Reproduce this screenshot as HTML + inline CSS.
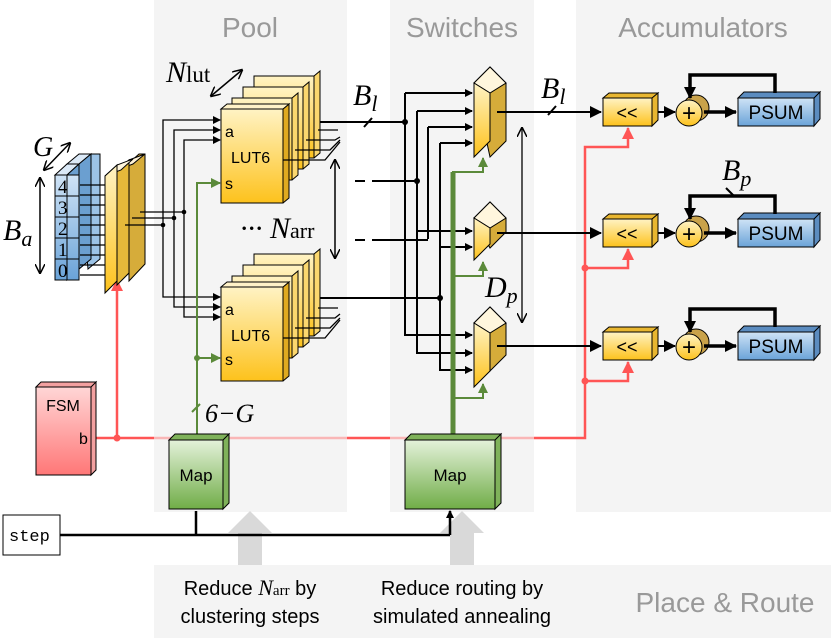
<!DOCTYPE html>
<html><head><meta charset="utf-8"><style>
body{margin:0;background:#fff;width:831px;height:638px;overflow:hidden}
svg text{font-family:"Liberation Sans",sans-serif}
svg text.m,svg tspan.m{font-family:"Liberation Serif",serif;font-style:italic}
svg text.mono{font-family:"Liberation Mono",monospace}
</style></head><body>
<svg width="831" height="638" viewBox="0 0 831 638" xmlns="http://www.w3.org/2000/svg">
<defs>
<linearGradient id="y" x1="0" y1="0" x2="0" y2="1"><stop offset="0" stop-color="#fff3c4"/><stop offset="1" stop-color="#fdc21c"/></linearGradient>
<linearGradient id="b" x1="0" y1="0" x2="0" y2="1"><stop offset="0" stop-color="#cfe3f6"/><stop offset="1" stop-color="#6aa3d8"/></linearGradient>
<linearGradient id="g" x1="0" y1="0" x2="0" y2="1"><stop offset="0" stop-color="#e4f2da"/><stop offset="1" stop-color="#70ad47"/></linearGradient>
<linearGradient id="r" x1="0" y1="0" x2="0" y2="1"><stop offset="0" stop-color="#ffd6d6"/><stop offset="1" stop-color="#f77"/></linearGradient>
<marker id="a" markerWidth="8" markerHeight="8" refX="7" refY="4" orient="auto" markerUnits="userSpaceOnUse"><path d="M0,0L8,4L0,8z" fill="#000"/></marker>
<marker id="ag" markerWidth="10" markerHeight="10" refX="9" refY="5" orient="auto" markerUnits="userSpaceOnUse"><path d="M0,0L10,5L0,10z" fill="#5b8a3a"/></marker>
<marker id="ar" markerWidth="12" markerHeight="12" refX="11" refY="6" orient="auto" markerUnits="userSpaceOnUse"><path d="M0,0L12,6L0,12z" fill="#f55"/></marker>
<marker id="ab" markerWidth="12" markerHeight="12" refX="11" refY="6" orient="auto" markerUnits="userSpaceOnUse"><path d="M0,0L12,6L0,12z" fill="#000"/></marker>
<marker id="d2" markerWidth="10" markerHeight="10" refX="9" refY="5" orient="auto-start-reverse" markerUnits="userSpaceOnUse"><path d="M0,0L10,5L0,10" fill="none" stroke="#000" stroke-width="1.5"/></marker>
</defs>
<rect x="154" y="0" width="193" height="512" fill="#f4f4f4"/>
<rect x="390" y="0" width="144" height="512" fill="#f4f4f4"/>
<rect x="576" y="0" width="255" height="512" fill="#f4f4f4"/>
<rect x="154" y="565" width="677" height="73" fill="#f4f4f4"/>
<text x="250" y="37" font-size="28" fill="#999" text-anchor="middle">Pool</text>
<text x="462" y="37" font-size="28" fill="#999" text-anchor="middle">Switches</text>
<text x="703" y="37" font-size="28" fill="#999" text-anchor="middle">Accumulators</text>
<text x="725" y="612" font-size="28" fill="#999" text-anchor="middle">Place &amp; Route</text>
<path d="M238,565V533H228L250,511L272,533H262V565z" fill="#d9d9d9"/>
<path d="M450,565V533H440L462,511L484,533H474V565z" fill="#d9d9d9"/>
<text x="250" y="595" font-size="20" text-anchor="middle">Reduce <tspan class="m" font-size="22">N</tspan><tspan font-family="Liberation Serif" font-size="15">arr</tspan> by</text>
<text x="250" y="623" font-size="20" text-anchor="middle">clustering steps</text>
<text x="462" y="595" font-size="20" text-anchor="middle">Reduce routing by</text>
<text x="462" y="623" font-size="20" text-anchor="middle">simulated annealing</text>

<g stroke="#f55" stroke-width="2.5" fill="none">
<path d="M96,438H154M347,438H390M534,438H585V147H628V128" marker-end="url(#ar)"/>
<path d="M117,438V280" marker-end="url(#ar)"/>
<path d="M585,268H628V249" marker-end="url(#ar)"/>
<path d="M585,381H628V362" marker-end="url(#ar)"/>
</g>
<path d="M154,438H347M390,438H534" stroke="#f9b6b6" stroke-width="2.5"/>
<circle cx="117" cy="438" r="3.5" fill="#f55"/><circle cx="585" cy="268" r="3.5" fill="#f55"/><circle cx="585" cy="381" r="3.5" fill="#f55"/>

<g stroke="#000" stroke-width="1">
<path d="M79,164l12,-10h9v105l-12,10z" fill="#9cc3e6"/>
<path d="M67,164l12,-10h12l-12,10z" fill="#dbe9f7"/>
<path d="M55,175l12,-11h12l-12,11z" fill="#dbe9f7"/>
<path d="M79,164l12,-10v105l-12,10z" fill="#6b9fd0"/>
<path d="M67,175l12,-11v105l-12,11z" fill="#6b9fd0"/>
<rect x="55" y="175" width="24" height="105" fill="url(#b)"/>
<path d="M55,196h24M55,217h24M55,238h24M55,259h24M67,175v105"/>
</g>
<g font-size="19" fill="#000"><text class="m" style="font-style:normal" x="58" y="193">4</text><text class="m" style="font-style:normal" x="58" y="214">3</text><text class="m" style="font-style:normal" x="58" y="235">2</text><text class="m" style="font-style:normal" x="58" y="256">1</text><text class="m" style="font-style:normal" x="58" y="277">0</text></g>
<g stroke="#000" stroke-width="1.3"><path d="M80,185h28M80,195h28M80,205h28M80,215h28M80,225h28M80,235h28M80,245h28M80,255h28M80,265h28M80,275h28"/></g>
<g stroke="#000" stroke-width="1">
<path d="M129,163l10,-9h6v110l-16,17z" fill="#d6ac3a"/>
<path d="M117,170l12,-10l16,-6l-12,10z" fill="#fff3d6"/>
<path d="M117,170l12,-10v113l-12,12z" fill="#e6b93a"/>
<path d="M105,176l12,-11l16,-6l-12,11z" fill="#fff6dd"/>
<path d="M105,176l12,-11v116l-12,12z" fill="url(#y)"/>
</g>
<g stroke="#000" stroke-width="1.3" fill="none">
<path d="M140,212H184V140H220" marker-end="url(#a)"/><path d="M132,218H174V130H220" marker-end="url(#a)"/><path d="M125,225H163V120H220" marker-end="url(#a)"/>
<path d="M184,212V317H220" marker-end="url(#a)"/><path d="M174,218V307H220" marker-end="url(#a)"/><path d="M163,225V297H220" marker-end="url(#a)"/>
</g>
<circle cx="184" cy="212" r="2.3"/><circle cx="174" cy="218" r="2.3"/><circle cx="163" cy="225" r="2.3"/>
<g stroke="#5b8a3a" stroke-width="2" fill="none">
<path d="M197,436V183H220" marker-end="url(#ag)"/><path d="M197,358H220" marker-end="url(#ag)"/>
<path d="M192,412l8,-8" stroke-width="2"/>
</g>
<circle cx="197" cy="358" r="3" fill="#5b8a3a"/>
<text class="m" x="205" y="422" font-size="26">6−G</text>
<g stroke="#000" stroke-width="1">
<g id="L">
<path d="M254,76h60l6,-5v82l-6,5h-60z" fill="#fbd76e"/><rect x="254" y="76" width="60" height="82" fill="url(#y)"/>
<path d="M243,87h60l6,-5v82l-6,5h-60z" fill="#fbd76e"/><rect x="243" y="87" width="60" height="82" fill="url(#y)"/>
<path d="M232,98h60l6,-5v82l-6,5h-60z" fill="#fbd76e"/><rect x="232" y="98" width="60" height="82" fill="url(#y)"/>
<path d="M221,109h62l6,-5v94l-6,5h-62z" fill="#e0aa20"/><path d="M221,109l6,-5h62l-6,5z" fill="#fff2c8"/><rect x="221" y="109" width="62" height="94" fill="url(#y)"/>
</g>
<use href="#L" y="178"/>
</g>
<g font-size="16"><text x="225" y="137">a</text><text x="231" y="163">LUT6</text><text x="225" y="189">s</text>
<text x="225" y="315">a</text><text x="231" y="341">LUT6</text><text x="225" y="365">s</text></g>
<g stroke="#000" stroke-width="1.3" fill="none">
<path d="M283,160H325L340,142M295,150H330L340,140M306,140H335L340,137M318,130H338M283,338H325L340,320M295,328H330L340,318M306,318H335L340,314M318,308H338"/>
</g>
<text class="m" x="166" y="82" font-size="30">N<tspan font-style="normal" font-size="23">lut</tspan></text>
<path d="M211,96L242,70" stroke="#000" stroke-width="1.5" marker-start="url(#d2)" marker-end="url(#d2)"/>
<text class="m" x="33" y="156" font-size="28">G</text>
<path d="M44,170L70,143" stroke="#000" stroke-width="1.5" marker-start="url(#d2)" marker-end="url(#d2)"/>
<text class="m" x="3" y="240" font-size="30">B<tspan font-size="22" dy="6">a</tspan></text>
<path d="M40,178V273" stroke="#000" stroke-width="1.5" marker-start="url(#d2)" marker-end="url(#d2)"/>
<text class="m" x="240" y="238" font-size="30">··· N<tspan font-style="normal" font-size="22">arr</tspan></text>
<path d="M335,160V258" stroke="#000" stroke-width="1.5" marker-start="url(#d2)" marker-end="url(#d2)"/>
<g stroke="#000" stroke-width="2" fill="none">
<path d="M320,122H405M320,298H440"/>
<path d="M355,181h10M372,181H417M355,240h10M372,240H428"/>
<path d="M364,127l8,-9M548,115l8,-9"/>
</g>
<text class="m" x="353" y="105" font-size="30">B<tspan font-size="22" dy="6">l</tspan></text>
<circle cx="405" cy="122" r="3"/><circle cx="417" cy="181" r="3"/><circle cx="440" cy="298" r="3"/>
<g stroke="#000" stroke-width="2" fill="none">
<path d="M405,93H472" marker-end="url(#a)"/><path d="M417,111H472" marker-end="url(#a)"/><path d="M428,127H472" marker-end="url(#a)"/><path d="M440,143H472" marker-end="url(#a)"/>
<path d="M405,93V335H472" marker-end="url(#a)"/><path d="M417,111V353H472" marker-end="url(#a)"/><path d="M428,127V239M440,143V370H472" marker-end="url(#a)"/>
<path d="M417,231H472" marker-end="url(#a)"/><path d="M440,247H472" marker-end="url(#a)"/>
</g>
<g stroke="#5b8a3a" stroke-width="2" fill="none">
<path d="M453,432V172H483V158" marker-end="url(#ag)"/>
<path d="M453,276H483V262" marker-end="url(#ag)"/>
<path d="M453,398H483V384" marker-end="url(#ag)"/>
</g>
<path d="M453,434V172" stroke="#5b8a3a" stroke-width="5"/>
<g stroke="#000" stroke-width="1">
<path d="M474,83l16,-16l16,16v58l-16,16z" fill="#d6ac3a"/><path d="M474,83l16,-16l16,16l-16,10z" fill="#fff6dd"/><path d="M474,83l16,10v48l-16,16z" fill="url(#y)"/>
<path d="M474,218l16,-16l16,16v14l-16,16z" fill="#d6ac3a"/><path d="M474,218l16,-16l16,16l-16,10z" fill="#fff6dd"/><path d="M474,218l16,10v16l-16,16z" fill="url(#y)"/>
<path d="M474,323l16,-16l16,16v32l-16,16z" fill="#d6ac3a"/><path d="M474,323l16,-16l16,16l-16,10z" fill="#fff6dd"/><path d="M474,323l16,10v38l-16,16z" fill="url(#y)"/>
</g>
<path d="M522,128V322" stroke="#000" stroke-width="1.3" marker-start="url(#d2)" marker-end="url(#d2)"/>
<text class="m" x="485" y="297" font-size="30">D<tspan font-size="22" dy="6">p</tspan></text>
<text class="m" x="541" y="98" font-size="30">B<tspan font-size="22" dy="6">l</tspan></text>
<g id="A">
<path d="M497,112H601" stroke="#000" stroke-width="2" marker-end="url(#ab)"/>
<path d="M603,98l6,-5h49l-6,5zM652,98l6,-5v27l-6,6z" fill="#e8b630" stroke="#000"/>
<rect x="603" y="98" width="49" height="28" fill="url(#y)" stroke="#000"/>
<text x="627" y="119" font-size="18" text-anchor="middle">&lt;&lt;</text>
<path d="M658,112H675" stroke="#000" stroke-width="2" marker-end="url(#ab)"/>
<circle cx="696" cy="108" r="13" fill="#c9a24a" stroke="#000"/>
<circle cx="689" cy="113" r="13" fill="url(#y)" stroke="#000"/>
<text x="689" y="121" font-size="24" text-anchor="middle">+</text>
<path d="M704,112H736" stroke="#000" stroke-width="3.5" marker-end="url(#ab)"/>
<path d="M738,98l6,-6h76l-6,6zM814,98l6,-6v27l-6,7z" fill="#5b8cc0" stroke="#000"/>
<rect x="738" y="98" width="76" height="28" fill="url(#b)" stroke="#000"/>
<text x="776" y="119" font-size="19" text-anchor="middle">PSUM</text>
<path d="M775,93V75H690V98" stroke="#000" stroke-width="3.5" fill="none" marker-end="url(#ab)"/>
</g>
<use href="#A" y="121"/>
<use href="#A" y="234"/>
<path d="M726,188l8,8" stroke="#000" stroke-width="2"/>
<text class="m" x="722" y="180" font-size="30">B<tspan font-size="22" dy="6">p</tspan></text>
<path d="M36,387l5,-5h55l-5,5zM91,387l5,-5v88l-5,5z" fill="#f2a0a0" stroke="#000"/>
<rect x="36" y="387" width="55" height="88" fill="url(#r)" stroke="#000"/>
<text x="63" y="411" font-size="16" text-anchor="middle">FSM</text><text x="79" y="444" font-size="16">b</text>
<path d="M169,440l6,-6h54l-6,6zM223,440l6,-6v69l-6,6z" fill="#7fb25a" stroke="#000"/>
<rect x="169" y="440" width="54" height="69" fill="url(#g)" stroke="#000"/>
<text x="196" y="481" font-size="17" text-anchor="middle">Map</text>
<path d="M405,440l6,-6h90l-6,6zM495,440l6,-6v69l-6,6z" fill="#7fb25a" stroke="#000"/>
<rect x="405" y="440" width="90" height="69" fill="url(#g)" stroke="#000"/>
<text x="450" y="481" font-size="17" text-anchor="middle">Map</text>
<rect x="3" y="515" width="57" height="40" fill="#fff" stroke="#000"/>
<text class="mono" x="9" y="541" font-size="17">step</text>
<path d="M60,535H450" stroke="#000" stroke-width="2.5" fill="none"/>
<path d="M196,535V511M450,535V511" stroke="#000" stroke-width="2.5" marker-end="url(#a)"/>
</svg>
</body></html>
